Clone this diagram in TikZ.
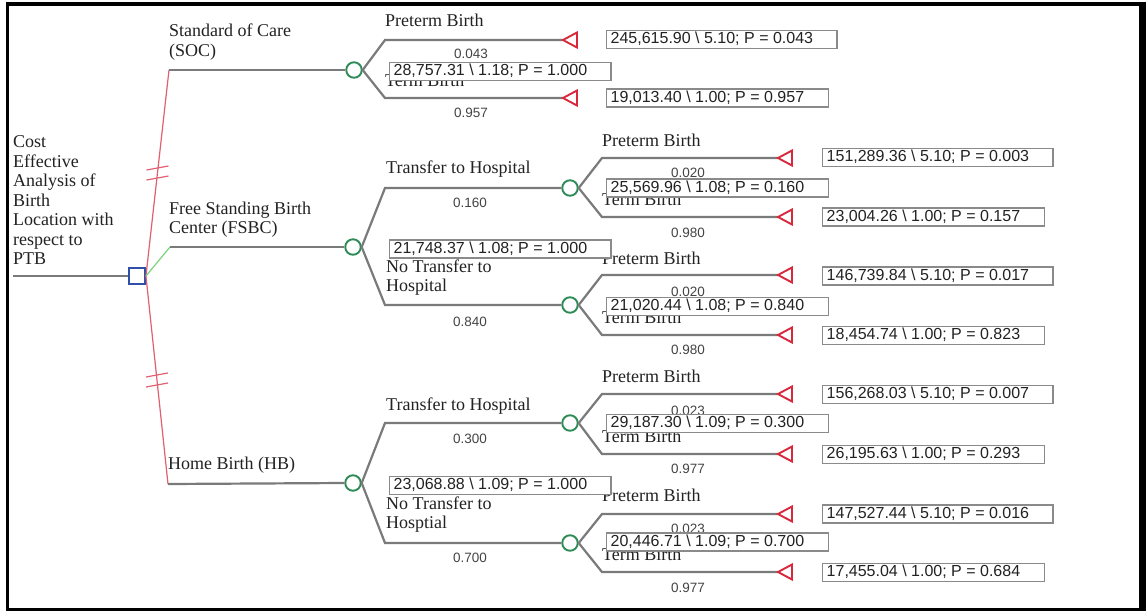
\documentclass[tikz,border=0pt]{standalone}
\usepackage{fontspec}
\setmainfont{Liberation Serif}
\newfontfamily\arialf{Liberation Sans}
\usetikzlibrary{calc}
\definecolor{linegray}{HTML}{7A7A7A}
\definecolor{boxgray}{HTML}{8A8A8A}
\definecolor{txt}{HTML}{222222}
\definecolor{ptxt}{HTML}{444444}
\definecolor{decblue}{HTML}{2F4FA8}
\definecolor{chgreen}{HTML}{2E8B57}
\definecolor{termred}{HTML}{D9283C}
\definecolor{redline}{HTML}{E06070}
\definecolor{greenline}{HTML}{7CD37C}
\begin{document}
\begin{tikzpicture}[x=1pt,y=-1pt,
  branch/.style={draw=linegray, line width=2.2pt},
  redbr/.style={draw=redline, line width=1.2pt},
  greenbr/.style={draw=greenline, line width=1.2pt},
  decision/.style={rectangle, draw=decblue, line width=1.9pt, fill=white, minimum size=16pt, inner sep=0pt},
  chance/.style={circle, draw=chgreen, line width=1.9pt, fill=white, minimum size=15.5pt, inner sep=0pt},
  termtri/.style={draw=termred, line width=1.9pt, fill=white, line join=miter},
  lab/.style={anchor=west, inner sep=0pt, text=txt, font=\fontsize{18}{19.5}\selectfont, align=left},
  prob/.style={inner sep=0pt, text=ptxt, font=\arialf\fontsize{13.5}{15}\selectfont},
  valbox/.style={anchor=west, draw=boxgray, line width=1.4pt, fill=white, text=txt,
    font=\arialf\fontsize{16}{18}\selectfont, inner xsep=4pt, inner ysep=1.5pt,
    text height=11.5pt, text depth=3.2pt, execute at end node={\hspace*{20pt}}},
]
\useasboundingbox (0,0) rectangle (1146,611);
\fill[white] (0,0) rectangle (1146,611);
\draw[black, line width=3.5pt] (7.5,4) rectangle (1142.5,609.5);
\fill[black] (1139,2) rectangle (1146,611);

% ---------- root and decision ----------
\node[lab] (title) at (13,200.5) {Cost\\Effective\\Analysis of\\Birth\\Location with\\respect to\\PTB};
\coordinate (root) at (13,276);
\node[decision] (D) at (137,276) {};
\draw[branch] (root) -- (D.west);

\coordinate (soc) at (169,70);
\coordinate (fsbc) at (170,247);
\coordinate (hb) at (168,484);
\draw[redbr] (D.east) -- (soc);
\draw[greenbr] (D.east) -- (fsbc);
\draw[redbr] (D.east) -- (hb);
\coordinate (m1) at ($(D.east)!0.5!(soc)$);
\coordinate (m2) at ($(D.east)!0.5!(hb)$);
\draw[redbr] ($(m1)+(-11,-3)$) -- ($(m1)+(11,-7)$);
\draw[redbr] ($(m1)+(-11,7)$) -- ($(m1)+(11,3)$);
\draw[redbr] ($(m2)+(-11,-3)$) -- ($(m2)+(11,-7)$);
\draw[redbr] ($(m2)+(-11,7)$) -- ($(m2)+(11,3)$);

\node[lab] (lsoc) at (169,42) {Standard of Care\\(SOC)};
\node[lab] (lfsbc) at (169,219.5) {Free Standing Birth\\Center (FSBC)};
\node[lab] (lhb) at (168,465) {Home Birth (HB)};

% ---------- SOC ----------
\node[chance] (C1) at (354,70) {};
\draw[branch] (soc) -- (C1.west);
\coordinate (s1) at (385,40); \coordinate (s2) at (385,98);
\coordinate (tS1) at (563,40); \coordinate (tS2) at (563,98);
\draw[branch] (C1.east) -- (s1) -- (tS1);
\draw[branch] (C1.east) -- (s2) -- (tS2);
\draw[termtri] (tS1) -- ++(14,-7.5) -- ++(0,15) -- cycle;
\draw[termtri] (tS2) -- ++(14,-7.5) -- ++(0,15) -- cycle;
\node[lab] (pS) at (385,20) {Preterm Birth};
\node[lab] (tmS) at (385,80) {Term Birth};
\node[prob] (qS1) at (471,54) {0.043};
\node[prob] (qS2) at (471,113) {0.957};
\node[valbox] (vS1) at (606,39.5) {245,615.90 \textbackslash{} 5.10; P = 0.043};
\node[valbox] (vS2) at (606,98) {19,013.40 \textbackslash{} 1.00; P = 0.957};

% ---------- FSBC ----------
\node[chance] (C2) at (353,247) {};
\draw[branch] (fsbc) -- (C2.west);
\coordinate (f1) at (385,188); \coordinate (f2) at (385,305);
\node[chance] (C21) at (570,188) {};
\node[chance] (C22) at (570,305) {};
\draw[branch] (C2.east) -- (f1) -- (C21.west);
\draw[branch] (C2.east) -- (f2) -- (C22.west);
\node[lab] (lft) at (386,169) {Transfer to Hospital};
\node[prob] (qF1) at (470,203) {0.160};
\node[lab] (lfn) at (386,277.5) {No Transfer to\\Hospital};
\node[prob] (qF2) at (470,322) {0.840};

% FSBC transfer
\coordinate (g1) at (602,158); \coordinate (g2) at (602,217);
\coordinate (tF1) at (778,158); \coordinate (tF2) at (778,217);
\draw[branch] (C21.east) -- (g1) -- (tF1);
\draw[branch] (C21.east) -- (g2) -- (tF2);
\draw[termtri] (tF1) -- ++(14,-7.5) -- ++(0,15) -- cycle;
\draw[termtri] (tF2) -- ++(14,-7.5) -- ++(0,15) -- cycle;
\node[lab] (pF1) at (602,140) {Preterm Birth};
\node[lab] (tmF1) at (602,199) {Term Birth};
\node[prob] (qF11) at (688,173) {0.020};
\node[prob] (qF12) at (688,233) {0.980};
\node[valbox] (vF11) at (822,157.5) {151,289.36 \textbackslash{} 5.10; P = 0.003};
\node[valbox] (vF12) at (822,217) {23,004.26 \textbackslash{} 1.00; P = 0.157};

% FSBC no transfer
\coordinate (h1) at (602,275); \coordinate (h2) at (602,335);
\coordinate (tF3) at (778,275); \coordinate (tF4) at (778,335);
\draw[branch] (C22.east) -- (h1) -- (tF3);
\draw[branch] (C22.east) -- (h2) -- (tF4);
\draw[termtri] (tF3) -- ++(14,-7.5) -- ++(0,15) -- cycle;
\draw[termtri] (tF4) -- ++(14,-7.5) -- ++(0,15) -- cycle;
\node[lab] (pF2) at (602,258) {Preterm Birth};
\node[lab] (tmF2) at (602,317) {Term Birth};
\node[prob] (qF21) at (688,292) {0.020};
\node[prob] (qF22) at (688,350) {0.980};
\node[valbox] (vF21) at (822,276) {146,739.84 \textbackslash{} 5.10; P = 0.017};
\node[valbox] (vF22) at (822,335.5) {18,454.74 \textbackslash{} 1.00; P = 0.823};

% ---------- HB ----------
\node[chance] (C3) at (353,483) {};
\draw[branch] (hb) -- (C3.west);
\coordinate (k1) at (385,423); \coordinate (k2) at (385,543);
\node[chance] (C31) at (570,423) {};
\node[chance] (C32) at (570,543) {};
\draw[branch] (C3.east) -- (k1) -- (C31.west);
\draw[branch] (C3.east) -- (k2) -- (C32.west);
\node[lab] (lht) at (386,406) {Transfer to Hospital};
\node[prob] (qH1) at (470,439) {0.300};
\node[lab] (lhn) at (386,514.5) {No Transfer to\\Hosptial};
\node[prob] (qH2) at (470,558) {0.700};

% HB transfer
\coordinate (n1) at (602,394); \coordinate (n2) at (602,454);
\coordinate (tH1) at (778,394); \coordinate (tH2) at (778,454);
\draw[branch] (C31.east) -- (n1) -- (tH1);
\draw[branch] (C31.east) -- (n2) -- (tH2);
\draw[termtri] (tH1) -- ++(14,-7.5) -- ++(0,15) -- cycle;
\draw[termtri] (tH2) -- ++(14,-7.5) -- ++(0,15) -- cycle;
\node[lab] (pH1) at (602,376) {Preterm Birth};
\node[lab] (tmH1) at (602,436) {Term Birth};
\node[prob] (qH11) at (688,411) {0.023};
\node[prob] (qH12) at (688,469) {0.977};
\node[valbox] (vH11) at (822,394.5) {156,268.03 \textbackslash{} 5.10; P = 0.007};
\node[valbox] (vH12) at (822,454.5) {26,195.63 \textbackslash{} 1.00; P = 0.293};

% HB no transfer
\coordinate (r1) at (602,514); \coordinate (r2) at (602,572);
\coordinate (tH3) at (778,514); \coordinate (tH4) at (778,572);
\draw[branch] (C32.east) -- (r1) -- (tH3);
\draw[branch] (C32.east) -- (r2) -- (tH4);
\draw[termtri] (tH3) -- ++(14,-7.5) -- ++(0,15) -- cycle;
\draw[termtri] (tH4) -- ++(14,-7.5) -- ++(0,15) -- cycle;
\node[lab] (pH2) at (602,495) {Preterm Birth};
\node[lab] (tmH2) at (602,554) {Term Birth};
\node[prob] (qH21) at (688,529) {0.023};
\node[prob] (qH22) at (688,588) {0.977};
\node[valbox] (vH21) at (822,514) {147,527.44 \textbackslash{} 5.10; P = 0.016};
\node[valbox] (vH22) at (822,572.5) {17,455.04 \textbackslash{} 1.00; P = 0.684};

% ---------- expected-value boxes (drawn on top) ----------
\node[valbox] (vS) at (389,71.5) {28,757.31 \textbackslash{} 1.18; P = 1.000};
\node[valbox] (vF) at (389,249) {21,748.37 \textbackslash{} 1.08; P = 1.000};
\node[valbox] (vH) at (389,485.5) {23,068.88 \textbackslash{} 1.09; P = 1.000};
\node[valbox] (vF1) at (606,188) {25,569.96 \textbackslash{} 1.08; P = 0.160};
\node[valbox] (vF2) at (606,306.5) {21,020.44 \textbackslash{} 1.08; P = 0.840};
\node[valbox] (vH1) at (606,423.5) {29,187.30 \textbackslash{} 1.09; P = 0.300};
\node[valbox] (vH2) at (606,542) {20,446.71 \textbackslash{} 1.09; P = 0.700};
\end{tikzpicture}
\end{document}
